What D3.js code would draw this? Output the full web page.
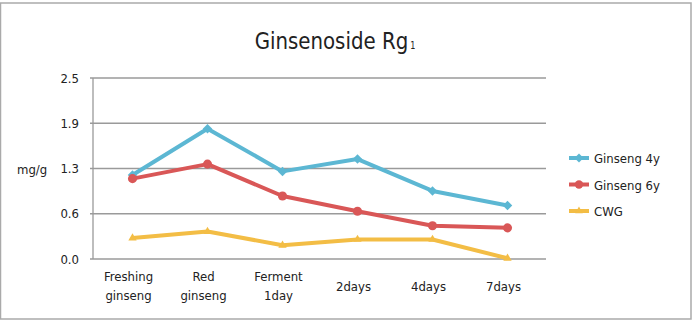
<!DOCTYPE html>
<html><head><meta charset="utf-8">
<script src="https://cdn.jsdelivr.net/npm/d3@7"></script>
<style>body{margin:0;background:#fff}svg{display:block}text{font-family:"DejaVu Sans Condensed","DejaVu Sans",sans-serif;fill:#222}</style>
</head><body><svg id="c" width="694" height="321"></svg>
<script>
const categories = [["Freshing","ginseng"],["Red","ginseng"],["Ferment","1day"],["2days"],["4days"],["7days"]];
const ginseng4y = [1.16, 1.80, 1.21, 1.38, 0.94, 0.74];
const ginseng6y = [1.11, 1.31, 0.87, 0.66, 0.46, 0.43];
const cwg = [0.29, 0.38, 0.19, 0.27, 0.27, 0.01];
const seriesNames = ["Ginseng 4y","Ginseng 6y","CWG"];
const yTicks = [0, 0.625, 1.25, 1.875, 2.5];
const colors = ["#5cb7d3","#d95757","#f3bd45"];
const symbols = [d3.symbolSquare, d3.symbolCircle, d3.symbolTriangle];

const svg = d3.select("#c");
svg.append("rect").attr("x",0.5).attr("y",3).attr("width",690.5).attr("height",316)
  .attr("fill","none").attr("stroke","#aaa").attr("stroke-width",1.5);

const L=93, R=546, T=78, B=259;
const x = d3.scaleBand().domain(d3.range(categories.length)).range([L+2, L+2+450]);
const y = d3.scaleLinear().domain([0,2.5]).range([B,T]);

svg.append("g").selectAll("line").data(yTicks).join("line")
  .attr("x1",L-3).attr("x2",R).attr("y1",d=>y(d)).attr("y2",d=>y(d))
  .attr("stroke","#9a9a9a").attr("stroke-width",1.3);
svg.append("line").attr("x1",L).attr("x2",L).attr("y1",T).attr("y2",B)
  .attr("stroke","#9a9a9a").attr("stroke-width",1.3);

svg.append("g").selectAll("text").data(yTicks).join("text")
  .attr("x",79).attr("y",d=>y(d)+4.5).attr("text-anchor","end")
  .style("font-size","13px").text(d=>d3.format(".1f")(d));
svg.append("text").attr("x",17).attr("y",y(1.25)+5).style("font-size","13px").text("mg/g");

const xl = svg.append("g").selectAll("text").data(categories).join("text")
  .attr("text-anchor","middle").style("font-size","13px")
  .attr("transform",(d,i)=>`translate(${x(i)+x.bandwidth()/2-4},${d.length>1?281:291})`);
xl.selectAll("tspan").data(d=>d).join("tspan").attr("x",0).attr("dy",(d,i)=>i?19:0).text(d=>d);

const title = svg.append("text").attr("x",335).attr("y",49).attr("text-anchor","middle")
  .style("font-size","22px").attr("transform","translate(335,0) scale(1,1.08) translate(-335,-3.6)");
title.append("tspan").text("Ginsenoside Rg");
title.append("tspan").style("font-size","9px").attr("dx",2).text("1");

const data = [ginseng4y, ginseng6y, cwg];
const line = d3.line().x((d,i)=>x(i)+x.bandwidth()/2).y(d=>y(d));
data.forEach((vals,k)=>{
  svg.append("path").attr("d",line(vals)).attr("fill","none").attr("stroke",colors[k])
    .attr("stroke-width",4).attr("stroke-linejoin","round");
  svg.append("g").selectAll("path").data(vals).join("path")
    .attr("transform",(d,i)=>`translate(${x(i)+x.bandwidth()/2},${y(d)})`+(k==0?" rotate(45)":""))
    .attr("d",d3.symbol().type(symbols[k]).size(k==2?30:k==0?45:65)).attr("fill",colors[k]);
});

const lg = svg.append("g").selectAll("g").data(seriesNames).join("g")
  .attr("transform",(d,i)=>`translate(569,${158+i*26.5})`);
lg.append("line").attr("x1",0).attr("x2",20).attr("stroke",(d,i)=>colors[i]).attr("stroke-width",4);
lg.append("path").attr("transform",(d,i)=>"translate(10,0)"+(i==0?" rotate(45)":""))
  .attr("d",(d,i)=>d3.symbol().type(symbols[i]).size(i==2?25:i==0?40:55)()).attr("fill",(d,i)=>colors[i]);
lg.append("text").attr("x",25).attr("y",5).style("font-size","13px").text(d=>d);
</script></body></html>
